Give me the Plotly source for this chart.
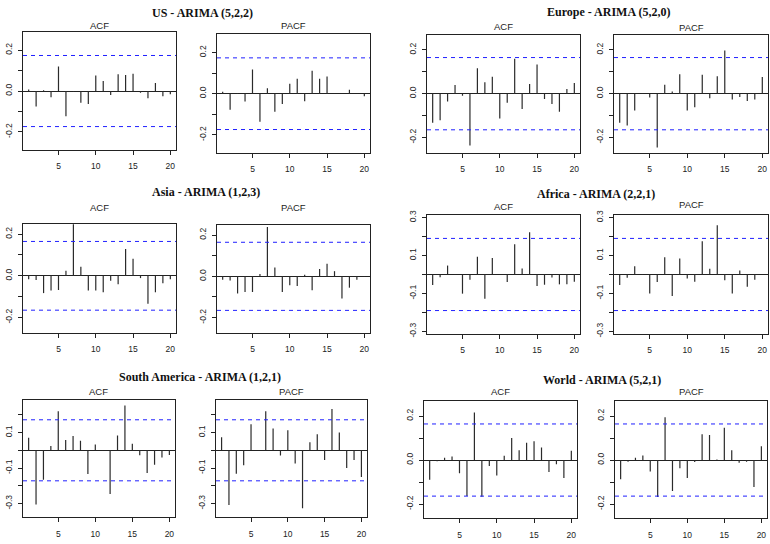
import plotly.graph_objects as go

# ---------------- data ----------------
lags = list(range(1, 21))
group_titles = ["US - ARIMA (5,2,2)", "Europe - ARIMA (5,2,0)", "Asia - ARIMA (1,2,3)",
                "Africa - ARIMA (2,2,1)", "South America - ARIMA (1,2,1)", "World - ARIMA (5,2,1)"]
panel_titles = ["ACF", "PACF"]

us_acf = [0.008, -0.076, 0.004, -0.030, 0.120, -0.124, -0.003, -0.057, -0.063, 0.076,
          0.049, -0.020, 0.082, 0.079, 0.085, -0.008, -0.035, 0.039, -0.025, -0.016]
us_pacf = [0.010, -0.078, 0.003, -0.038, 0.118, -0.136, 0.026, -0.088, -0.050, 0.048,
           0.072, -0.037, 0.112, 0.072, 0.083, 0.001, -0.001, 0.019, 0.001, -0.013]
europe_acf = [-0.133, -0.121, -0.036, 0.040, -0.009, -0.237, 0.116, 0.052, 0.077, -0.113,
              -0.041, 0.159, -0.070, 0.044, 0.133, -0.024, -0.047, -0.083, 0.021, 0.049]
europe_pacf = [-0.133, -0.145, -0.077, 0.002, -0.018, -0.246, 0.041, 0.010, 0.089, -0.077,
               -0.062, 0.086, -0.021, 0.080, 0.197, -0.027, -0.015, -0.033, -0.027, 0.076]
asia_acf = [-0.016, -0.020, -0.083, -0.071, -0.068, 0.024, 0.247, 0.043, -0.071, -0.071,
            -0.079, -0.024, -0.041, 0.129, 0.082, -0.011, -0.134, -0.079, -0.036, -0.016]
asia_pacf = [-0.016, -0.020, -0.083, -0.076, -0.076, 0.011, 0.239, 0.043, -0.076, -0.043,
             -0.047, 0.008, -0.068, 0.035, 0.061, 0.025, -0.107, -0.055, -0.017, -0.002]
africa_acf = [-0.056, -0.014, 0.047, -0.003, -0.101, -0.028, 0.094, -0.128, 0.087, 0.002,
              -0.040, 0.159, 0.031, 0.222, -0.061, -0.054, -0.016, -0.052, -0.052, -0.038]
africa_pacf = [-0.056, -0.017, 0.044, 0.003, -0.100, -0.040, 0.091, -0.114, 0.084, -0.021,
               -0.038, 0.175, 0.030, 0.259, -0.031, -0.100, 0.021, -0.065, -0.028, 0.001]
samerica_acf = [0.071, -0.305, -0.166, 0.024, 0.220, 0.058, 0.080, 0.054, -0.134, 0.033,
                0.002, -0.246, 0.084, 0.253, 0.037, -0.028, -0.128, -0.082, -0.041, -0.026]
samerica_pacf = [0.073, -0.309, -0.132, -0.084, 0.147, 0.002, 0.220, 0.123, -0.030, 0.113,
                 -0.074, -0.327, 0.045, 0.091, -0.054, 0.233, 0.100, -0.100, -0.054, -0.151]
world_acf = [-0.090, -0.006, 0.010, 0.016, -0.060, -0.164, 0.216, -0.167, -0.027, -0.070,
             0.019, 0.100, 0.045, 0.079, 0.085, 0.057, -0.054, -0.019, -0.082, 0.042]
world_pacf = [-0.087, -0.008, 0.010, 0.021, -0.052, -0.168, 0.195, -0.141, -0.037, -0.082,
              -0.009, 0.117, 0.114, 0.002, 0.147, 0.045, -0.012, -0.008, -0.123, 0.063]

ci_bounds = [0.174, 0.165, 0.165, 0.190, 0.172, 0.164]
x_tick_vals = [5, 10, 15, 20]
x_tick_labels = ["5", "10", "15", "20"]

series = [us_acf, us_pacf, europe_acf, europe_pacf, asia_acf, asia_pacf,
          africa_acf, africa_pacf, samerica_acf, samerica_pacf, world_acf, world_pacf]

# ---------------- layout config (pixels) ----------------
W, H = 770, 544
boxes = [  # x0, x1, y0, y1 (pixels from top-left)
    (23, 176, 27, 147), (217, 370, 29, 150), (427, 580, 30, 150), (614, 768, 30, 150),
    (23, 176, 222, 333), (217, 370, 223, 333), (427, 580, 213, 334), (614, 768, 213, 334),
    (23, 175, 401, 520), (216, 367, 401, 520), (424, 577, 402, 521), (615, 767, 402, 521),
]
yranges = [(-0.288, 0.291), (-0.287, 0.292), (-0.27, 0.27), (-0.27, 0.27),
           (-0.275, 0.25), (-0.275, 0.25), (-0.314, 0.314), (-0.314, 0.314),
           (-0.378, 0.283), (-0.378, 0.283), (-0.265, 0.268), (-0.265, 0.268)]
ptitle_y = [21, 21, 22, 23, 206, 206, 204, 202, 392, 392, 392, 392]
gtitle_pos = [(203, 8), (608, 7), (206, 190), (596, 192), (200, 378), (602, 381)]

sans = "Liberation Sans, Arial, sans-serif"
serif = "Liberation Serif, Times New Roman, serif"
ink = "#222222"

fig = go.Figure()
shapes = []
annotations = []
layout = {}

for i, vals in enumerate(series):
    k = i + 1
    xa = "xaxis" if k == 1 else f"xaxis{k}"
    ya = "yaxis" if k == 1 else f"yaxis{k}"
    xr = "x" if k == 1 else f"x{k}"
    yr = "y" if k == 1 else f"y{k}"
    x0, x1, y0, y1 = boxes[i]
    lo, hi = yranges[i]

    xs, ys = [], []
    for lag, v in zip(lags, vals):
        xs += [lag, lag, None]
        ys += [0, v, None]
    fig.add_trace(go.Scatter(x=xs, y=ys, mode="lines", xaxis=xr, yaxis=yr,
                             line=dict(color="#2b2b2b", width=1.2),
                             hoverinfo="skip", showlegend=False))

    yt = [round(t / 10, 1) for t in range(-4, 5) if lo <= t / 10 <= hi]
    odd_labels = (i in (6, 7, 8, 9))
    ytext = []
    for t in yt:
        lab = f"{t:.1f}"
        if t == 0:
            lab = "0.0"
        even = abs(round(t * 10)) % 2 == 0
        ytext.append(lab if (even != odd_labels) else "")

    layout[xa] = dict(domain=[x0 / W, x1 / W], range=[0.24, 20.76], anchor=yr,
                      tickmode="array", tickvals=x_tick_vals, ticktext=x_tick_labels,
                      ticks="outside", ticklen=4, tickcolor=ink, ticklabelstandoff=4,
                      showline=True, mirror=True, linecolor=ink, linewidth=1,
                      showgrid=False, zeroline=False,
                      tickfont=dict(family=sans, size=8.5, color=ink))
    layout[ya] = dict(domain=[1 - y1 / H, 1 - y0 / H], range=[lo, hi], anchor=xr,
                      tickmode="array", tickvals=yt, ticktext=ytext, tickangle=-90,
                      ticks="outside", ticklen=4, tickcolor=ink, ticklabelstandoff=3,
                      showline=True, mirror=True, linecolor=ink, linewidth=1,
                      showgrid=False, zeroline=True, zerolinecolor=ink, zerolinewidth=1,
                      tickfont=dict(family=sans, size=8.5, color=ink))

    ci = ci_bounds[i // 2]
    for c in (ci, -ci):
        shapes.append(dict(type="line", xref=f"{xr} domain", yref=yr, x0=0, x1=1, y0=c, y1=c,
                           line=dict(color="#2020ff", width=1, dash="4px,4px")))

    annotations.append(dict(text=panel_titles[i % 2], xref="paper", yref="paper",
                            x=(x0 + x1) / 2 / W, y=1 - ptitle_y[i] / H,
                            xanchor="center", yanchor="middle", showarrow=False,
                            font=dict(family=sans, size=9.5, color=ink)))

for (cx, cy), t in zip(gtitle_pos, group_titles):
    annotations.append(dict(text=f"<b>{t}</b>", xref="paper", yref="paper",
                            x=cx / W, y=1 - cy / H, xanchor="center", yanchor="middle",
                            showarrow=False, font=dict(family=serif, size=12, color="#111111")))

fig.update_layout(width=W, height=H, margin=dict(l=0, r=0, t=0, b=0),
                  paper_bgcolor="white", plot_bgcolor="white",
                  shapes=shapes, annotations=annotations, **layout)

fig.write_html("out.html",
               config={"displayModeBar": False},
               post_script="document.body.style.margin='0';document.body.style.padding='0';"
                           "document.body.style.overflow='hidden';")
